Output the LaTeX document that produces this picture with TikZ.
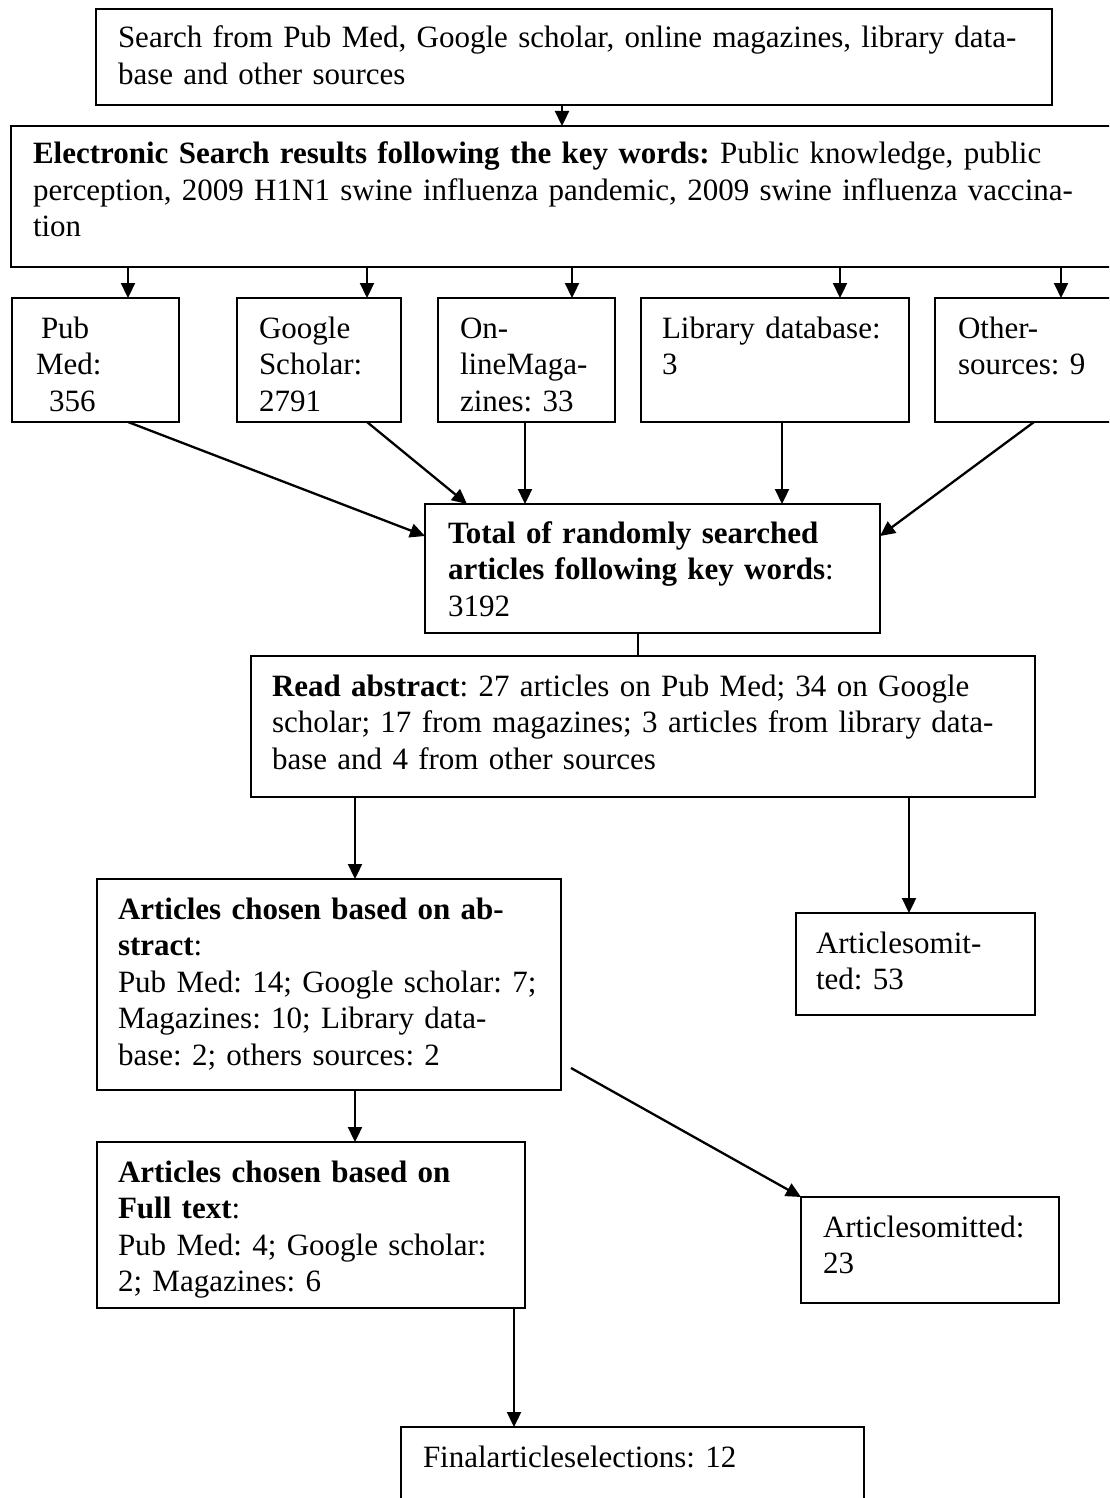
\documentclass[tikz,border=0pt]{standalone}
\usepackage{fontspec}
\setmainfont{Liberation Serif}
\usetikzlibrary{arrows.meta,calc}

\newcommand{\flowfont}{\fontsize{15.5}{18.25}\selectfont\frenchspacing}

\tikzset{every picture/.style={line width=1pt}}
\tikzset{
  box/.style={draw, inner sep=0pt, outer sep=0pt, anchor=north west},
  heavybox/.style={box, line width=1.3pt},
  txt/.style={anchor=base west, inner sep=0pt, align=left, font=\flowfont, text width=#1},
  arr/.style={line width=1.15pt, -{Triangle[length=7.5pt,width=7pt]}}
}

\begin{document}
\begin{tikzpicture}[x=0.5pt,y=0.5pt,yscale=-1]
\useasboundingbox (0,0) rectangle (1109,1498);
\clip (0,0) rectangle (1109,1498);

%Shape: Rectangle [search]
\node [box, minimum width=478pt, minimum height=48pt] (search) at (96,9) {};
%Shape: Rectangle [electronic]
\node [heavybox, minimum width=559.5pt, minimum height=70.5pt] (electronic) at (11,126) {};
%Shape: Rectangle [pubmed]
\node [box, minimum width=83.5pt, minimum height=62pt] (pubmed) at (12,298) {};
%Shape: Rectangle [google]
\node [box, minimum width=82pt, minimum height=62pt] (google) at (237,298) {};
%Shape: Rectangle [online]
\node [box, minimum width=88.5pt, minimum height=62pt] (online) at (438,298) {};
%Shape: Rectangle [library]
\node [box, minimum width=134pt, minimum height=62pt] (library) at (641,298) {};
%Shape: Rectangle [other]
\node [box, minimum width=97.5pt, minimum height=62pt] (other) at (935,298) {};
%Shape: Rectangle [total]
\node [heavybox, minimum width=227.5pt, minimum height=64.5pt] (total) at (425,504) {};
%Shape: Rectangle [abstract]
\node [box, minimum width=392pt, minimum height=70.5pt] (abstract) at (251,656) {};
%Shape: Rectangle [chosen]
\node [box, minimum width=232pt, minimum height=105.5pt] (chosen) at (97,879) {};
%Shape: Rectangle [omitted53]
\node [heavybox, minimum width=119.5pt, minimum height=51pt] (omitted53) at (796,913) {};
%Shape: Rectangle [fulltext]
\node [box, minimum width=214pt, minimum height=83pt] (fulltext) at (97,1142) {};
%Shape: Rectangle [omitted23]
\node [heavybox, minimum width=129pt, minimum height=53pt] (omitted23) at (801,1197) {};
%Shape: Rectangle [final]
\node [box, minimum width=231.5pt, minimum height=51.5pt] (final) at (401,1427) {};

%where the connectors meet the boxes
\coordinate (xsearch) at (562,0);
\coordinate (xpub) at (128,0);
\coordinate (xgoogle) at (367,0);
\coordinate (xonline) at (572,0);
\coordinate (xlibrary) at (840,0);
\coordinate (xother) at (1061,0);
\coordinate (xgooglein) at (467,0);
\coordinate (xonlineout) at (525,0);
\coordinate (xlibraryout) at (782,0);
\coordinate (xotherout) at (1034,0);
\coordinate (ytotal) at (0,536);
\coordinate (xtotal) at (638,0);
\coordinate (xleft) at (355,0);
\coordinate (xright) at (909,0);
\coordinate (xfull) at (514,0);

%Straight Lines
\draw [arr] (search.south -| xsearch) -- (electronic.north -| xsearch);
%Straight Lines
\draw [arr] (electronic.south -| xpub) -- (pubmed.north -| xpub);
%Straight Lines
\draw [arr] (electronic.south -| xgoogle) -- (google.north -| xgoogle);
%Straight Lines
\draw [arr] (electronic.south -| xonline) -- (online.north -| xonline);
%Straight Lines
\draw [arr] (electronic.south -| xlibrary) -- (library.north -| xlibrary);
%Straight Lines
\draw [arr] (electronic.south -| xother) -- (other.north -| xother);
%Straight Lines
\draw [arr] (pubmed.south -| xpub) -- (total.west |- ytotal);
%Straight Lines
\draw [arr] (google.south -| xgoogle) -- (total.north -| xgooglein);
%Straight Lines
\draw [arr] (online.south -| xonlineout) -- (total.north -| xonlineout);
%Straight Lines
\draw [arr] (library.south -| xlibraryout) -- (total.north -| xlibraryout);
%Straight Lines
\draw [arr] (other.south -| xotherout) -- (total.east |- ytotal);
%Straight Lines
\draw (total.south -| xtotal) -- (abstract.north -| xtotal);
%Straight Lines
\draw [arr] (abstract.south -| xleft) -- (chosen.north -| xleft);
%Straight Lines
\draw [arr] (abstract.south -| xright) -- (omitted53.north -| xright);
%Straight Lines
\draw [arr] (chosen.south -| xleft) -- (fulltext.north -| xleft);
%Straight Lines
\draw [arr] ($(chosen.south east)+(10,-22)$) -- (omitted23.north west);
%Straight Lines
\draw [arr] (fulltext.south -| xfull) -- (final.north -| xfull);

% Text Node
\node [txt=467pt] (searchtxt) at (117,48) {Search from Pub Med, Google scholar, online magazines, library data-\\base and other sources};
% Text Node
\node [txt=535pt] (electxt) at (32,164) {\textbf{Electronic Search results following the key words:} Public knowledge, public\\perception, 2009 H1N1 swine influenza pandemic, 2009 swine influenza vaccina-\\tion};
% Text Node
\node [txt=70pt] (pubtxt) at (35,338) {\hspace*{2.5pt}Pub\\Med:\\\hspace*{6.5pt}356};
% Text Node
\node [txt=70pt] (googletxt) at (258,338) {Google\\Scholar:\\2791};
% Text Node
\node [txt=75pt] (onlinetxt) at (459,338) {On-\\lineMaga-\\zines: 33};
% Text Node
\node [txt=122pt] (librarytxt) at (661,338) {Library database:\\3};
% Text Node
\node [txt=75pt] (othertxt) at (957,338) {Other-\\sources: 9};
% Text Node
\node [txt=212pt] (totaltxt) at (447,543) {\textbf{Total of randomly searched}\\\textbf{articles following key words}:\\3192};
% Text Node
\node [txt=378pt] (abstracttxt) at (271,696) {\textbf{Read abstract}: 27 articles on Pub Med; 34 on Google\\scholar; 17 from magazines; 3 articles from library data-\\base and 4 from other sources};
% Text Node
\node [txt=218pt] (chosentxt) at (117,919) {\textbf{Articles chosen based on ab-}\\\textbf{stract}:\\Pub Med: 14; Google scholar: 7;\\Magazines: 10; Library data-\\base: 2; others sources: 2};
% Text Node
\node [txt=108pt] (omit53txt) at (815,953) {Articlesomit-\\ted: 53};
% Text Node
\node [txt=200pt] (fulltxt) at (117,1182) {\textbf{Articles chosen based on}\\\textbf{Full text}:\\Pub Med: 4; Google scholar:\\2; Magazines: 6};
% Text Node
\node [txt=116pt] (omit23txt) at (822,1237) {Articlesomitted:\\23};
% Text Node
\node [txt=215pt] (finaltxt) at (422,1467) {Finalarticleselections: 12};
\end{tikzpicture}
\end{document}
